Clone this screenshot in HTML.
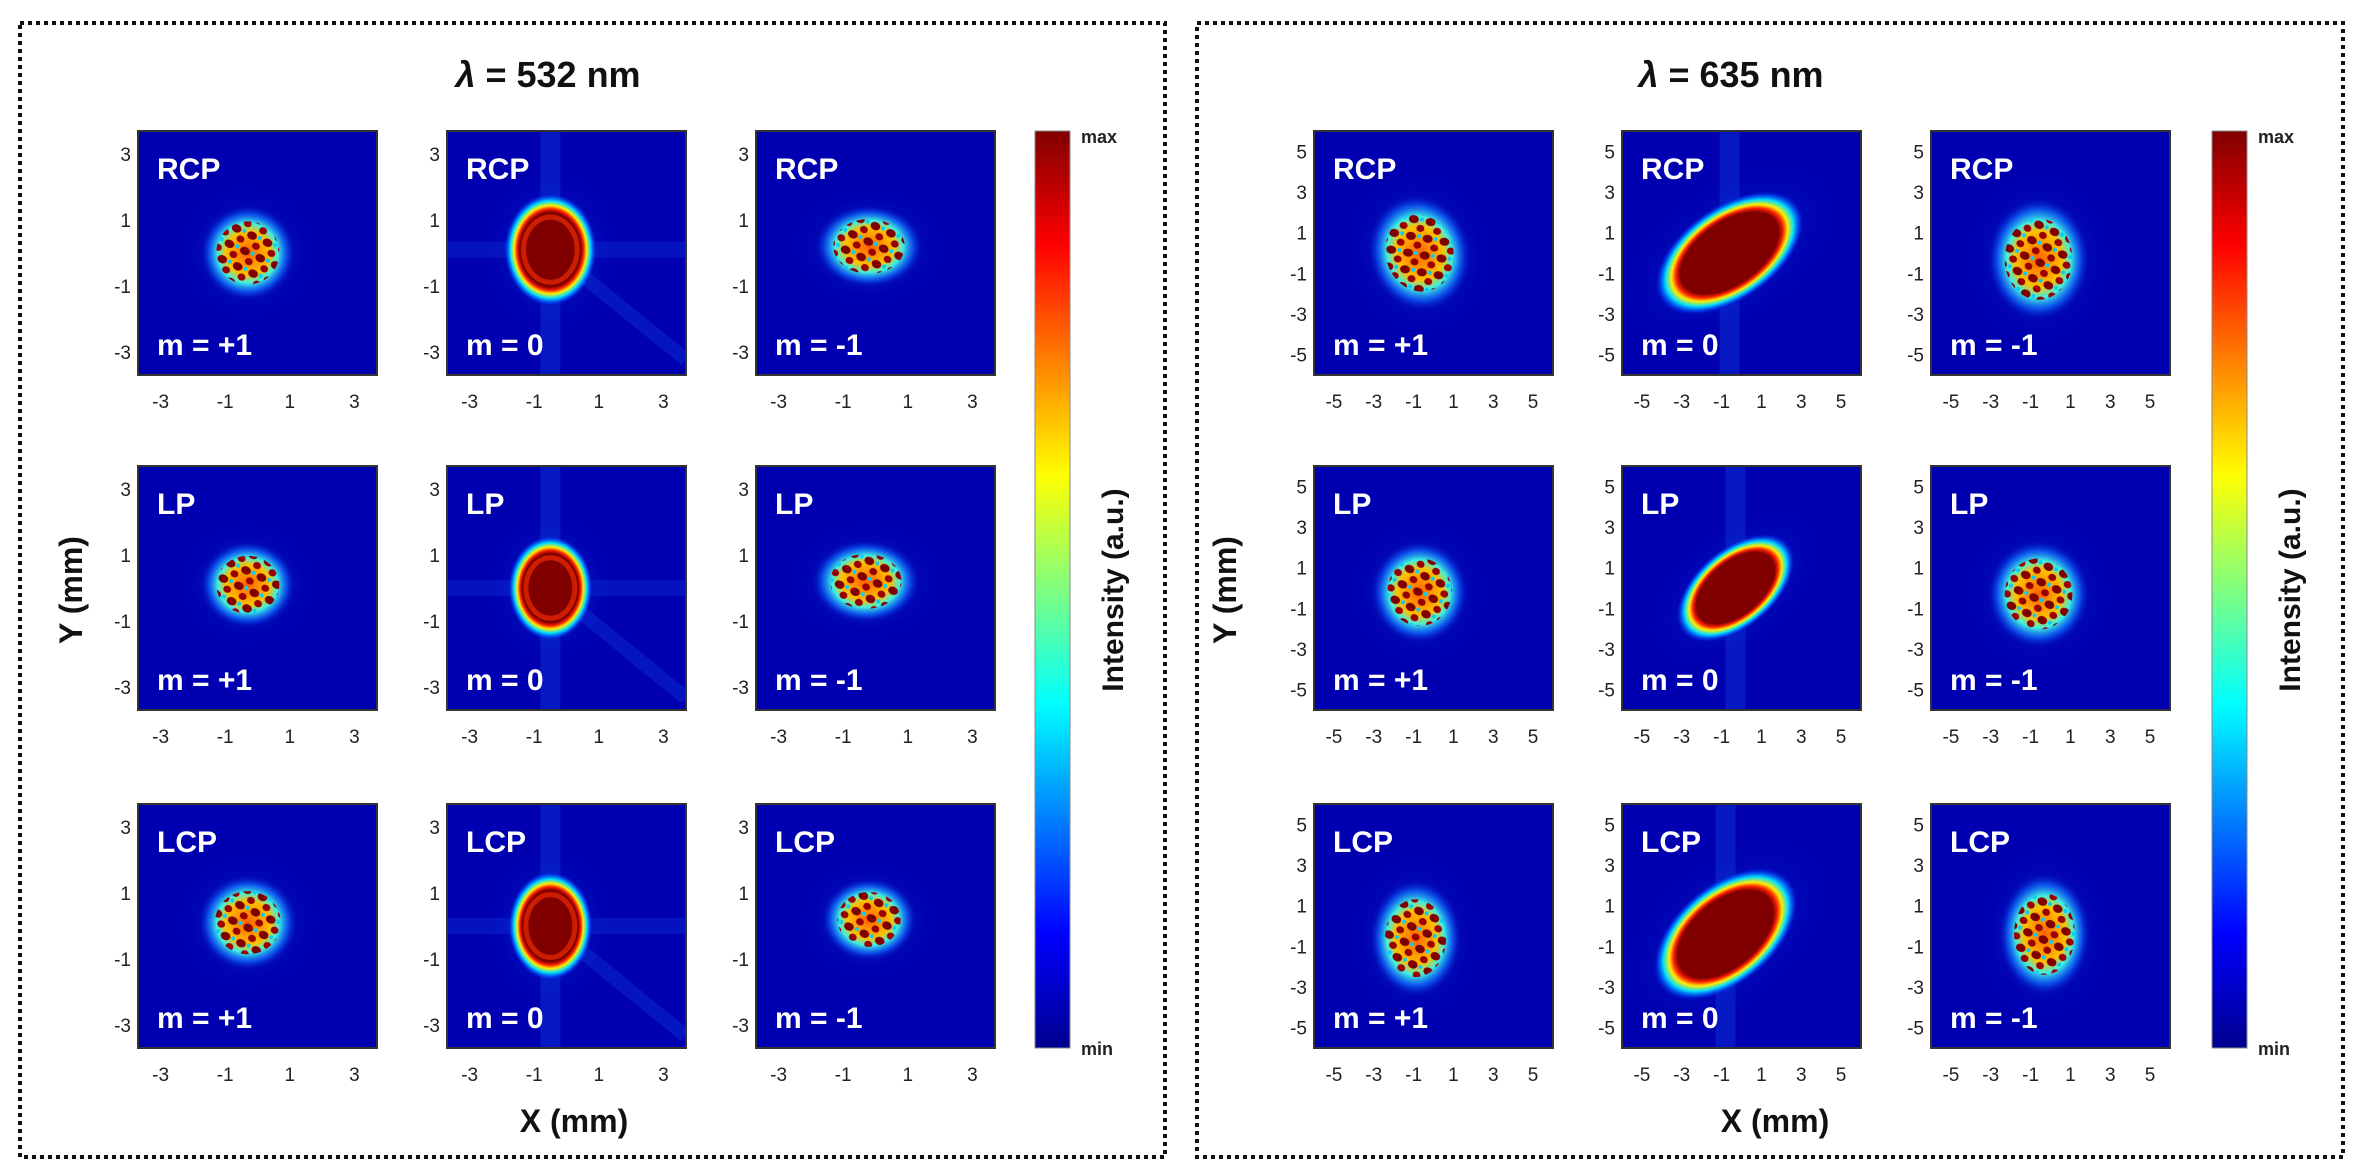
<!DOCTYPE html>
<html><head><meta charset="utf-8">
<style>
html,body{margin:0;padding:0;background:#fff;}
svg{display:block;}
text{font-family:"Liberation Sans",sans-serif;}
</style></head>
<body>
<svg id="fig" width="2362" height="1173" viewBox="0 0 2362 1173" xmlns="http://www.w3.org/2000/svg">
<defs>
<linearGradient id="jet" x1="0" y1="1" x2="0" y2="0">
<stop offset="0" stop-color="#00008f"/><stop offset="0.125" stop-color="#0000ff"/>
<stop offset="0.375" stop-color="#00ffff"/><stop offset="0.625" stop-color="#ffff00"/>
<stop offset="0.875" stop-color="#ff0000"/><stop offset="1" stop-color="#800000"/>
</linearGradient>
<radialGradient id="blob">
<stop offset="0" stop-color="#800000"/><stop offset="0.66" stop-color="#800000"/>
<stop offset="0.72" stop-color="#ff2000"/><stop offset="0.78" stop-color="#ffee00"/>
<stop offset="0.86" stop-color="#00e0ff"/><stop offset="0.94" stop-color="#0050ff" stop-opacity="0.6"/>
<stop offset="1" stop-color="#0000b0" stop-opacity="0"/>
</radialGradient>
<radialGradient id="spk">
<stop offset="0" stop-color="#ff6000"/><stop offset="0.45" stop-color="#ffc000"/>
<stop offset="0.62" stop-color="#40f0e0"/><stop offset="0.8" stop-color="#1070ff" stop-opacity="0.7"/>
<stop offset="1" stop-color="#0000b0" stop-opacity="0"/>
</radialGradient>
<radialGradient id="halo">
<stop offset="0" stop-color="#1060ff" stop-opacity="0.6"/><stop offset="1" stop-color="#0000b0" stop-opacity="0"/>
</radialGradient>
<pattern id="speck" width="17" height="17" patternUnits="userSpaceOnUse" patternTransform="rotate(25)">
<ellipse cx="5" cy="5" rx="5" ry="4" fill="#800000"/><ellipse cx="13" cy="13" rx="4" ry="3.5" fill="#9a0000"/>
<circle cx="13" cy="4" r="2" fill="#00d0ff"/>
</pattern>
</defs>
<g id="root"></g>
</svg>
<script>
// layout
const rowsY = [131, 466, 804];
const panelH = 244;
const groups = ["532", "635"];
const colsX = { "532": [138, 447, 756], "635": [1314, 1622, 1931] };
const panelW = 239;
const halfRange = { "532": 3.7, "635": 6.0 };
const ticks = { "532": [-3, -1, 1, 3], "635": [-5, -3, -1, 1, 3, 5] };
const polLabels = ["RCP", "LP", "LCP"];
const orderLabels = ["m = +1", "m = 0", "m = -1"];
// beam spot data per group, [row][col]: center x,y (mm), radii (mm), angle (deg)
const spotCx = { "532": [[-0.3,-0.5,-0.2],[-0.3,-0.5,-0.3],[-0.3,-0.5,-0.2]], "635": [[-0.7,-0.6,-0.6],[-0.7,-0.3,-0.6],[-0.9,-0.8,-0.3]] };
const spotCy = { "532": [[0.0,0.1,0.2],[0.1,0.0,0.2],[0.1,0.0,0.2]], "635": [[0.0,0.0,-0.3],[-0.2,0.0,-0.3],[-0.6,-0.4,-0.4]] };
const spotRx = { "532": [[1.15,1.15,1.3],[1.15,1.05,1.3],[1.2,1.05,1.15]], "635": [[2.0,3.4,2.0],[1.9,2.8,2.0],[1.8,3.4,1.8]] };
const spotRy = { "532": [[1.15,1.4,1.0],[1.05,1.3,1.0],[1.15,1.35,1.0]], "635": [[2.3,1.9,2.4],[2.0,1.6,2.1],[2.3,2.0,2.4]] };
const spotAng = { "532": [[0,0,0],[0,0,0],[0,0,0]], "635": [[-15,-35,0],[0,-40,0],[0,-40,0]] };

const NS = "http://www.w3.org/2000/svg";
const root = document.getElementById("root");
function mk(tag, attrs, parent) {
  const e = document.createElementNS(NS, tag);
  for (const k in attrs) e.setAttribute(k, attrs[k]);
  (parent || root).appendChild(e);
  return e;
}
function txt(s, attrs, parent) { const t = mk("text", attrs, parent); t.textContent = s; return t; }

const f1 = mk("rect", {x:20, y:23, width:1145, height:1134, fill:"none", stroke:"#111", "stroke-width":4, "stroke-dasharray":"4 4"});


const f2 = mk("rect", {x:1197, y:23, width:1146, height:1134, fill:"none", stroke:"#111", "stroke-width":4, "stroke-dasharray":"4 4"});



const titleX = { "532": 548, "635": 1731 };
const cbX = { "532": 1035, "635": 2212 };
const yLabX = { "532": 82, "635": 1236 };
const xLabX = { "532": 574, "635": 1775 };

groups.forEach(g => {
  const t = txt("", {x:titleX[g], y:87, "text-anchor":"middle", "font-size":36, "font-weight":"bold", fill:"#111"});
  t.innerHTML = '<tspan font-style="italic">λ</tspan> = ' + g + ' nm';
  
  
  const yl = txt("Y (mm)", {x:yLabX[g], y:590, "text-anchor":"middle", "font-size":32, "font-weight":"bold", fill:"#111", transform:`rotate(-90 ${yLabX[g]} 590)`});
  
  
  const xl = txt("X (mm)", {x:xLabX[g], y:1132, "text-anchor":"middle", "font-size":32, "font-weight":"bold", fill:"#111"});
  
  
  const cb = mk("rect", {x:cbX[g], y:131, width:35, height:917, fill:"url(#jet)", stroke:"#888", "stroke-width":1});
  
  
  const mx = txt("max", {x:cbX[g]+46, y:143, "font-size":18, "font-weight":"bold", fill:"#222"});
  
  
  const mn = txt("min", {x:cbX[g]+46, y:1055, "font-size":18, "font-weight":"bold", fill:"#222"});
  
  
  const il = txt("Intensity (a.u.)", {x:cbX[g]+88, y:590, "text-anchor":"middle", "font-size":30, "font-weight":"bold", fill:"#111", transform:`rotate(-90 ${cbX[g]+88} 590)`});
  
  

  for (let r = 0; r < 3; r++) for (let c = 0; c < 3; c++) {
    const x0 = colsX[g][c], y0 = rowsY[r];
    const H = halfRange[g];
    const sx = v => x0 + panelW/2 + v * (panelW/2) / H;
    const sy = v => y0 + panelH/2 - v * (panelH/2) / H;
    const scl = (panelW/2) / H;
    const pg = mk("g", {});
    
    
    const cid = `clip-${g}-${r}-${c}`;
    const cp = mk("clipPath", {id:cid}, pg);
    mk("rect", {x:x0, y:y0, width:panelW, height:panelH}, cp);
    const inner = mk("g", {"clip-path":`url(#${cid})`}, pg);
    mk("rect", {x:x0, y:y0, width:panelW, height:panelH, fill:"#0000b0"}, inner);
    const cx = sx(spotCx[g][r][c]), cy = sy(spotCy[g][r][c]);
    const rx = spotRx[g][r][c]*scl, ry = spotRy[g][r][c]*scl, ang = spotAng[g][r][c];
    const rot = `rotate(${ang} ${cx} ${cy})`;
    mk("ellipse", {cx:cx, cy:cy, rx:rx*1.9, ry:ry*1.9, fill:"url(#halo)", transform:rot}, inner);
    if (c === 1) {
      mk("rect", {x:cx-10, y:y0, width:20, height:panelH, fill:"#1a6cff", opacity:0.22}, inner);
      if (g === "532") {
        mk("rect", {x:x0, y:cy-8, width:panelW, height:16, fill:"#1a6cff", opacity:0.18}, inner);
        mk("line", {x1:cx, y1:cy, x2:x0+panelW, y2:cy+110, stroke:"#1a6cff", "stroke-width":14, opacity:0.2}, inner);
      }
      const bl = mk("ellipse", {cx:cx, cy:cy, rx:rx*1.25, ry:ry*1.25, fill:"url(#blob)", transform:rot}, inner);
      
      
      if (g === "532") {
        mk("ellipse", {cx:cx, cy:cy, rx:rx*0.72, ry:ry*0.72, fill:"none", stroke:"#ff3000", "stroke-width":5, opacity:0.6}, inner);
      }
    } else {
      const bl = mk("ellipse", {cx:cx, cy:cy, rx:rx*1.3, ry:ry*1.3, fill:"url(#spk)", transform:rot}, inner);
      
      
      mk("ellipse", {cx:cx, cy:cy, rx:rx*0.85, ry:ry*0.85, fill:"url(#speck)", transform:rot}, inner);
    }
    mk("rect", {x:x0, y:y0, width:panelW, height:panelH, fill:"none", stroke:"#333", "stroke-width":2}, pg);
    const pl = txt(polLabels[r], {x:x0+19, y:y0+48, "font-size":30, "font-weight":"bold", fill:"#fff"}, pg);
    
    
    const ol = txt(orderLabels[c], {x:x0+19, y:y0+panelH-20, "font-size":30, "font-weight":"bold", fill:"#fff"}, pg);
    
    
    ticks[g].forEach(v => {
      const ty = txt(String(v), {x:x0-7, y:sy(v)+7, "text-anchor":"end", "font-size":19, fill:"#222"}, pg);
      
      
      const tx = txt(String(v), {x:sx(v), y:y0+panelH+33, "text-anchor":"middle", "font-size":19, fill:"#222"}, pg);
      
      
    });
  }
});
</script>
</body></html>
